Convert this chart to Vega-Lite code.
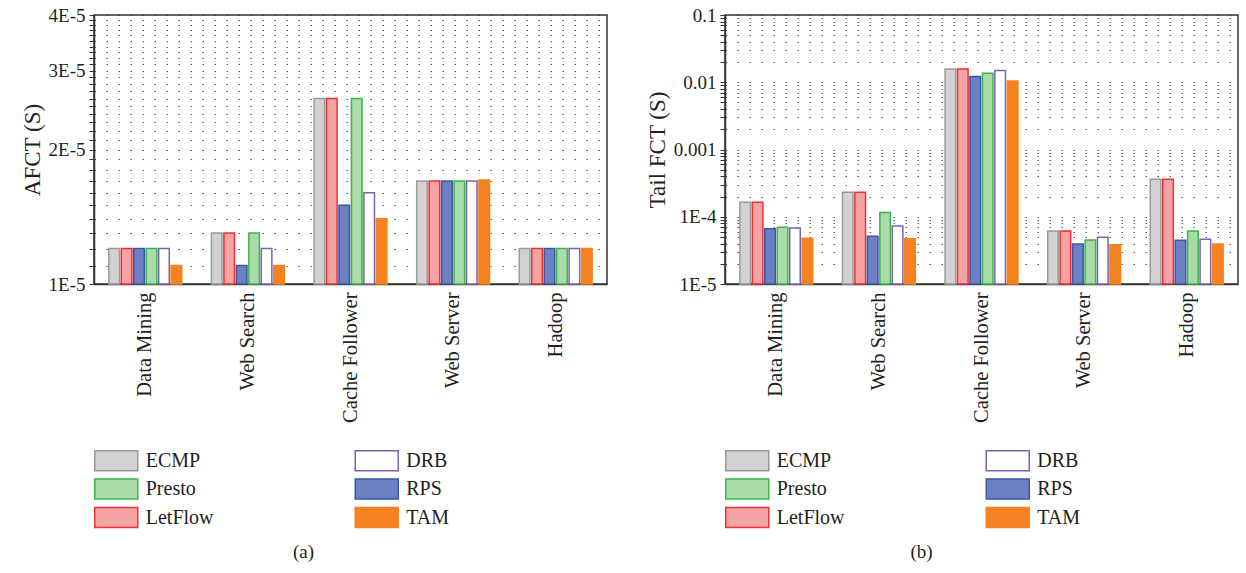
{
  "$schema": "https://vega.github.io/schema/vega-lite/v6.json",
  "padding": {"left": 20, "top": 5, "right": 5, "bottom": 5},
  "background": "white",
  "config": {
    "font": "Liberation Serif, serif",
    "view": {"stroke": "#333333", "strokeWidth": 1.5},
    "axis": {"domainColor": "#333333", "domainWidth": 1.5, "labelColor": "#231f20", "titleColor": "#231f20", "labelFont": "Liberation Serif, serif", "titleFont": "Liberation Serif, serif", "tickColor": "#333333"},
    "legend": {"labelFont": "Liberation Serif, serif", "labelColor": "#231f20"},
    "title": {"font": "Liberation Serif, serif", "color": "#231f20", "fontWeight": "normal"}
  },
  "datasets": {
    "afct": [
      {"workload": "Data Mining", "scheme": "ECMP", "value": 1.2e-5},
      {"workload": "Data Mining", "scheme": "LetFlow", "value": 1.2e-5},
      {"workload": "Data Mining", "scheme": "RPS", "value": 1.2e-5},
      {"workload": "Data Mining", "scheme": "Presto", "value": 1.2e-5},
      {"workload": "Data Mining", "scheme": "DRB", "value": 1.2e-5},
      {"workload": "Data Mining", "scheme": "TAM", "value": 1.1e-5},
      {"workload": "Web Search", "scheme": "ECMP", "value": 1.3e-5},
      {"workload": "Web Search", "scheme": "LetFlow", "value": 1.3e-5},
      {"workload": "Web Search", "scheme": "RPS", "value": 1.1e-5},
      {"workload": "Web Search", "scheme": "Presto", "value": 1.3e-5},
      {"workload": "Web Search", "scheme": "DRB", "value": 1.2e-5},
      {"workload": "Web Search", "scheme": "TAM", "value": 1.1e-5},
      {"workload": "Cache Follower", "scheme": "ECMP", "value": 2.6e-5},
      {"workload": "Cache Follower", "scheme": "LetFlow", "value": 2.6e-5},
      {"workload": "Cache Follower", "scheme": "RPS", "value": 1.5e-5},
      {"workload": "Cache Follower", "scheme": "Presto", "value": 2.6e-5},
      {"workload": "Cache Follower", "scheme": "DRB", "value": 1.6e-5},
      {"workload": "Cache Follower", "scheme": "TAM", "value": 1.4e-5},
      {"workload": "Web Server", "scheme": "ECMP", "value": 1.7e-5},
      {"workload": "Web Server", "scheme": "LetFlow", "value": 1.7e-5},
      {"workload": "Web Server", "scheme": "RPS", "value": 1.7e-5},
      {"workload": "Web Server", "scheme": "Presto", "value": 1.7e-5},
      {"workload": "Web Server", "scheme": "DRB", "value": 1.7e-5},
      {"workload": "Web Server", "scheme": "TAM", "value": 1.71e-5},
      {"workload": "Hadoop", "scheme": "ECMP", "value": 1.2e-5},
      {"workload": "Hadoop", "scheme": "LetFlow", "value": 1.2e-5},
      {"workload": "Hadoop", "scheme": "RPS", "value": 1.2e-5},
      {"workload": "Hadoop", "scheme": "Presto", "value": 1.2e-5},
      {"workload": "Hadoop", "scheme": "DRB", "value": 1.2e-5},
      {"workload": "Hadoop", "scheme": "TAM", "value": 1.2e-5}
    ],
    "tail": [
      {"workload": "Data Mining", "scheme": "ECMP", "value": 1.64e-4},
      {"workload": "Data Mining", "scheme": "LetFlow", "value": 1.64e-4},
      {"workload": "Data Mining", "scheme": "RPS", "value": 6.65e-5},
      {"workload": "Data Mining", "scheme": "Presto", "value": 6.97e-5},
      {"workload": "Data Mining", "scheme": "DRB", "value": 6.8e-5},
      {"workload": "Data Mining", "scheme": "TAM", "value": 4.78e-5},
      {"workload": "Web Search", "scheme": "ECMP", "value": 2.31e-4},
      {"workload": "Web Search", "scheme": "LetFlow", "value": 2.31e-4},
      {"workload": "Web Search", "scheme": "RPS", "value": 5.12e-5},
      {"workload": "Web Search", "scheme": "Presto", "value": 1.16e-4},
      {"workload": "Web Search", "scheme": "DRB", "value": 7.3e-5},
      {"workload": "Web Search", "scheme": "TAM", "value": 4.72e-5},
      {"workload": "Cache Follower", "scheme": "ECMP", "value": 1.57e-2},
      {"workload": "Cache Follower", "scheme": "LetFlow", "value": 1.57e-2},
      {"workload": "Cache Follower", "scheme": "RPS", "value": 1.22e-2},
      {"workload": "Cache Follower", "scheme": "Presto", "value": 1.36e-2},
      {"workload": "Cache Follower", "scheme": "DRB", "value": 1.49e-2},
      {"workload": "Cache Follower", "scheme": "TAM", "value": 1.04e-2},
      {"workload": "Web Server", "scheme": "ECMP", "value": 6.14e-5},
      {"workload": "Web Server", "scheme": "LetFlow", "value": 6.14e-5},
      {"workload": "Web Server", "scheme": "RPS", "value": 3.93e-5},
      {"workload": "Web Server", "scheme": "Presto", "value": 4.51e-5},
      {"workload": "Web Server", "scheme": "DRB", "value": 4.94e-5},
      {"workload": "Web Server", "scheme": "TAM", "value": 3.85e-5},
      {"workload": "Hadoop", "scheme": "ECMP", "value": 3.6e-4},
      {"workload": "Hadoop", "scheme": "LetFlow", "value": 3.6e-4},
      {"workload": "Hadoop", "scheme": "RPS", "value": 4.46e-5},
      {"workload": "Hadoop", "scheme": "Presto", "value": 6.14e-5},
      {"workload": "Hadoop", "scheme": "DRB", "value": 4.62e-5},
      {"workload": "Hadoop", "scheme": "TAM", "value": 3.93e-5}
    ]
  },
  "spacing": 37,
  "resolve": {"scale": {"fill": "independent", "stroke": "independent", "y": "independent"}, "legend": {"fill": "independent", "stroke": "independent"}},
  "hconcat": [
    {
      "width": 513,
      "height": 269,
      "data": {"name": "afct"},
      "title": {"text": "(a)", "orient": "bottom", "fontSize": 19, "offset": 12, "dx": -47, "font": "Liberation Serif, serif"},
      "mark": {"type": "bar", "strokeWidth": 1.5},
      "encoding": {
        "x": {"field": "workload", "type": "nominal", "sort": ["Data Mining", "Web Search", "Cache Follower", "Web Server", "Hadoop"],
          "scale": {"paddingInner": 0.29, "paddingOuter": 0.145},
          "axis": {"title": null, "labelAngle": -90, "labelFontSize": 20.5, "labelPadding": 8, "ticks": false, "labelAlign": "right", "labelBaseline": "middle"}},
        "xOffset": {"field": "scheme", "type": "nominal", "sort": ["ECMP", "LetFlow", "RPS", "Presto", "DRB", "TAM"], "scale": {"paddingInner": 0.15}},
        "y": {"field": "value", "type": "quantitative", "stack": null,
          "scale": {"type": "log", "domain": [1e-5, 4e-5], "nice": false},
          "axis": {"title": "AFCT (S)", "titleFontSize": 23, "titleFontWeight": "normal", "titlePadding": 4, "labelFontSize": 19, "labelPadding": 4,
            "values": [1e-5, 1.1e-5, 1.2e-5, 1.3e-5, 1.4e-5, 1.5e-5, 1.6e-5, 1.7e-5, 1.8e-5, 1.9e-5, 2e-5, 2.1e-5, 2.2e-5, 2.3e-5, 2.4e-5, 2.5e-5, 2.6e-5, 2.7e-5, 2.8e-5, 2.9e-5, 3e-5, 3.1e-5, 3.2e-5, 3.3e-5, 3.4e-5, 3.5e-5, 3.6e-5, 3.7e-5, 3.8e-5, 3.9e-5, 4e-5],
            "labelExpr": "datum.value == 1e-5 ? '1E-5' : datum.value == 2e-5 ? '2E-5' : datum.value == 3e-5 ? '3E-5' : datum.value == 4e-5 ? '4E-5' : ''",
            "tickSize": 5,
            "grid": true, "gridDash": [1.5, 10.5], "gridColor": "#333333", "gridWidth": 1.2, "gridOpacity": 0.8}},
        "fill": {"field": "scheme", "type": "nominal",
          "scale": {"domain": ["ECMP", "Presto", "LetFlow", "DRB", "RPS", "TAM"], "range": ["#d2d2d2", "#aadcaa", "#f6a3a3", "#ffffff", "#6d80c2", "#f58220"]},
          "legend": {"title": null, "orient": "none", "legendX": 10.75, "legendY": 434, "columns": 2, "columnPadding": 138.5, "rowPadding": 1.5, "labelFontSize": 20, "labelOffset": 18, "symbolType": "M-2,-0.93H2V0.93H-2Z", "symbolSize": 462.25, "symbolStrokeWidth": 1.5}},
        "stroke": {"field": "scheme", "type": "nominal",
          "scale": {"domain": ["ECMP", "Presto", "LetFlow", "DRB", "RPS", "TAM"], "range": ["#9a9a9a", "#3db54a", "#ee3035", "#7b63b3", "#3b57a8", "#f58220"]},
          "legend": {"title": null, "orient": "none", "legendX": 10.75, "legendY": 434, "columns": 2, "columnPadding": 138.5, "rowPadding": 1.5, "labelFontSize": 20, "labelOffset": 18, "symbolType": "M-2,-0.93H2V0.93H-2Z", "symbolSize": 462.25, "symbolStrokeWidth": 1.5}}
      }
    },
    {
      "width": 513,
      "height": 269,
      "data": {"name": "tail"},
      "title": {"text": "(b)", "orient": "bottom", "fontSize": 19, "offset": 12, "dx": -60, "font": "Liberation Serif, serif"},
      "mark": {"type": "bar", "strokeWidth": 1.5},
      "encoding": {
        "x": {"field": "workload", "type": "nominal", "sort": ["Data Mining", "Web Search", "Cache Follower", "Web Server", "Hadoop"],
          "scale": {"paddingInner": 0.29, "paddingOuter": 0.145},
          "axis": {"title": null, "labelAngle": -90, "labelFontSize": 20.5, "labelPadding": 8, "ticks": false, "labelAlign": "right", "labelBaseline": "middle"}},
        "xOffset": {"field": "scheme", "type": "nominal", "sort": ["ECMP", "LetFlow", "RPS", "Presto", "DRB", "TAM"], "scale": {"paddingInner": 0.15}},
        "y": {"field": "value", "type": "quantitative", "stack": null,
          "scale": {"type": "log", "domain": [1e-5, 0.1], "nice": false},
          "axis": {"title": "Tail FCT (S)", "titleFontSize": 23, "titleFontWeight": "normal", "titlePadding": 4, "labelFontSize": 19, "labelPadding": 4,
            "values": [1e-5, 2e-5, 3e-5, 4e-5, 5e-5, 6e-5, 7e-5, 8e-5, 9e-5, 1e-4, 2e-4, 3e-4, 4e-4, 5e-4, 6e-4, 7e-4, 8e-4, 9e-4, 0.001, 0.002, 0.003, 0.004, 0.005, 0.006, 0.007, 0.008, 0.009, 0.01, 0.02, 0.03, 0.04, 0.05, 0.06, 0.07, 0.08, 0.09, 0.1],
            "labelExpr": "datum.value == 1e-5 ? '1E-5' : datum.value == 1e-4 ? '1E-4' : datum.value == 0.001 ? '0.001' : datum.value == 0.01 ? '0.01' : datum.value == 0.1 ? '0.1' : ''",
            "tickSize": 5,
            "grid": true, "gridDash": [1.5, 10.5], "gridColor": "#333333", "gridWidth": 1.2, "gridOpacity": 0.8}},
        "fill": {"field": "scheme", "type": "nominal",
          "scale": {"domain": ["ECMP", "Presto", "LetFlow", "DRB", "RPS", "TAM"], "range": ["#d2d2d2", "#aadcaa", "#f6a3a3", "#ffffff", "#6d80c2", "#f58220"]},
          "legend": {"title": null, "orient": "none", "legendX": 10.75, "legendY": 434, "columns": 2, "columnPadding": 138.5, "rowPadding": 1.5, "labelFontSize": 20, "labelOffset": 18, "symbolType": "M-2,-0.93H2V0.93H-2Z", "symbolSize": 462.25, "symbolStrokeWidth": 1.5}},
        "stroke": {"field": "scheme", "type": "nominal",
          "scale": {"domain": ["ECMP", "Presto", "LetFlow", "DRB", "RPS", "TAM"], "range": ["#9a9a9a", "#3db54a", "#ee3035", "#7b63b3", "#3b57a8", "#f58220"]},
          "legend": {"title": null, "orient": "none", "legendX": 10.75, "legendY": 434, "columns": 2, "columnPadding": 138.5, "rowPadding": 1.5, "labelFontSize": 20, "labelOffset": 18, "symbolType": "M-2,-0.93H2V0.93H-2Z", "symbolSize": 462.25, "symbolStrokeWidth": 1.5}}
      }
    }
  ]
}
